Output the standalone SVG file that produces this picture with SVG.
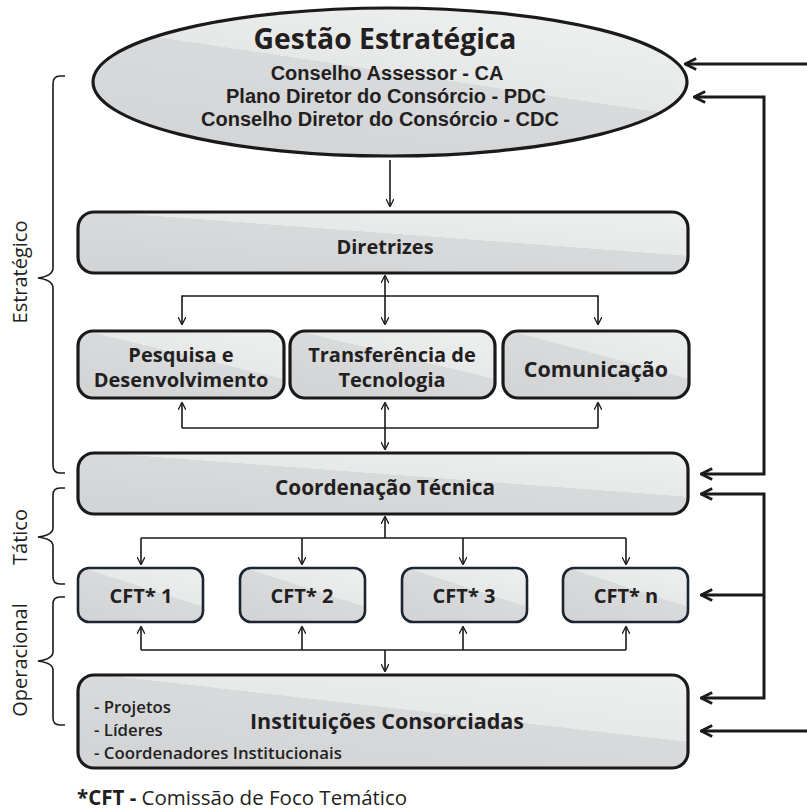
<svg xmlns="http://www.w3.org/2000/svg" width="807" height="811" viewBox="0 0 807 811">
<defs>
<linearGradient id="gl" x1="0.125" y1="0.875" x2="0.875" y2="-0.125">
<stop offset="0" stop-color="#d3d4d6"/>
<stop offset="0.52" stop-color="#d9dadc"/>
<stop offset="0.52" stop-color="#e7e8e8"/>
<stop offset="1" stop-color="#eeefef"/>
</linearGradient>
<linearGradient id="gle" x1="0.2" y1="1" x2="0.8" y2="0">
<stop offset="0" stop-color="#d3d4d6"/>
<stop offset="0.55" stop-color="#d9dadc"/>
<stop offset="0.55" stop-color="#e6e7e7"/>
<stop offset="1" stop-color="#eeefef"/>
</linearGradient>
<marker id="ah" viewBox="0 0 10 10" refX="9" refY="5" markerWidth="8" markerHeight="8" markerUnits="userSpaceOnUse" orient="auto-start-reverse">
<path d="M0,0 L10,5 L0,10" fill="none" stroke="#1a1a1a" stroke-width="1.6"/>
</marker>
<marker id="ahb" viewBox="0 0 10 10" refX="9" refY="5" markerWidth="14" markerHeight="14" markerUnits="userSpaceOnUse" orient="auto-start-reverse">
<path d="M1,1 L9,5 L1,9" fill="none" stroke="#1a1a1a" stroke-width="2"/>
</marker>
</defs>
<style>
.box{fill:url(#gl);stroke:#1a1a1a;stroke-width:3.2}
.cft{fill:url(#gl);stroke:#1c2630;stroke-width:2.6}
.t{font-family:"Open Sans","Liberation Sans",sans-serif;font-weight:bold;fill:#231f20;text-anchor:middle}
.s{font-family:"Liberation Sans",Arial,sans-serif;font-weight:bold;fill:#231f20;text-anchor:middle;font-size:20px}
.r{font-family:"Open Sans","Liberation Sans",sans-serif;fill:#231f20}
.c{fill:none;stroke:#1a1a1a;stroke-width:1.6}
.cb{fill:none;stroke:#1a1a1a;stroke-width:3}
.br{fill:none;stroke:#1a1a1a;stroke-width:1.6}
</style>

<g id="gestao">
<ellipse cx="390" cy="82" rx="297" ry="74" fill="url(#gle)" stroke="#1a1a1a" stroke-width="3.2"/>
<text class="t" x="385" y="49" font-size="28.3">Gestão Estratégica</text>
<text class="s" x="387" y="80">Conselho Assessor - CA</text>
<text class="s" x="386" y="103">Plano Diretor do Consórcio - PDC</text>
<text class="s" x="380" y="126">Conselho Diretor do Consórcio - CDC</text>
</g>

<g id="diretrizes">
<rect class="box" x="78" y="212" width="610" height="61" rx="16"/>
<text class="t" x="385" y="254" font-size="20">Diretrizes</text>
</g>

<g id="pesquisa">
<rect class="box" x="78" y="331" width="206" height="67" rx="15"/>
<text class="t" x="181" y="362" font-size="20">Pesquisa e</text>
<text class="t" x="181" y="387" font-size="20">Desenvolvimento</text>
</g>
<g id="transferencia">
<rect class="box" x="290" y="331" width="205" height="67" rx="15"/>
<text class="t" x="392" y="362" font-size="20">Transferência de</text>
<text class="t" x="392" y="387" font-size="20">Tecnologia</text>
</g>
<g id="comunicacao">
<rect class="box" x="503" y="331" width="186" height="67" rx="15"/>
<text class="t" x="596" y="377" font-size="21.5">Comunicação</text>
</g>

<g id="coordenacao">
<rect class="box" x="78" y="453" width="610" height="61" rx="16"/>
<text class="t" x="385" y="495" font-size="20.8">Coordenação Técnica</text>
</g>

<g id="cft1"><rect class="cft" x="78" y="568" width="125" height="54" rx="11"/><text class="t" x="141" y="603" font-size="20">CFT* 1</text></g>
<g id="cft2"><rect class="cft" x="240" y="568" width="125" height="54" rx="11"/><text class="t" x="302" y="603" font-size="20">CFT* 2</text></g>
<g id="cft3"><rect class="cft" x="402" y="568" width="125" height="54" rx="11"/><text class="t" x="464" y="603" font-size="20">CFT* 3</text></g>
<g id="cftn"><rect class="cft" x="563" y="568" width="125" height="54" rx="11"/><text class="t" x="626" y="603" font-size="20">CFT* n</text></g>

<g id="instituicoes">
<rect class="box" x="78" y="675" width="610" height="93" rx="16"/>
<text class="t" x="387" y="729" font-size="21.5">Instituições Consorciadas</text>
<text class="r" x="94" y="713" font-size="16.8" font-weight="600">- Projetos</text>
<text class="r" x="94" y="736" font-size="16.8" font-weight="600">- Líderes</text>
<text class="r" x="94" y="759" font-size="16.8" font-weight="600">- Coordenadores Institucionais</text>
</g>

<g id="connectors">
<line class="c" x1="390" y1="160" x2="390" y2="206" marker-end="url(#ah)" stroke-width="2.2"/>
<line class="c" x1="385" y1="296" x2="385" y2="276" marker-end="url(#ah)"/>
<line class="c" x1="385" y1="296" x2="385" y2="324" marker-end="url(#ah)"/>
<polyline class="c" points="182,324 182,296 598,296 598,324" marker-start="url(#ah)" marker-end="url(#ah)"/>
<line class="c" x1="182" y1="428" x2="182" y2="403" marker-end="url(#ah)"/>
<line class="c" x1="598" y1="428" x2="598" y2="403" marker-end="url(#ah)"/>
<line class="c" x1="182" y1="428" x2="598" y2="428"/>
<line class="c" x1="385" y1="428" x2="385" y2="403" marker-end="url(#ah)"/>
<line class="c" x1="385" y1="428" x2="385" y2="449" marker-end="url(#ah)"/>
<line class="c" x1="385" y1="538" x2="385" y2="517" marker-end="url(#ah)"/>
<line class="c" x1="141" y1="538" x2="626" y2="538"/>
<line class="c" x1="141" y1="538" x2="141" y2="564" marker-end="url(#ah)"/>
<line class="c" x1="302" y1="538" x2="302" y2="564" marker-end="url(#ah)"/>
<line class="c" x1="463" y1="538" x2="463" y2="564" marker-end="url(#ah)"/>
<line class="c" x1="626" y1="538" x2="626" y2="564" marker-end="url(#ah)"/>
<line class="c" x1="141" y1="650" x2="626" y2="650"/>
<line class="c" x1="141" y1="650" x2="141" y2="627" marker-end="url(#ah)"/>
<line class="c" x1="302" y1="650" x2="302" y2="627" marker-end="url(#ah)"/>
<line class="c" x1="463" y1="650" x2="463" y2="627" marker-end="url(#ah)"/>
<line class="c" x1="626" y1="650" x2="626" y2="627" marker-end="url(#ah)"/>
<line class="c" x1="385" y1="650" x2="385" y2="671" marker-end="url(#ah)"/>
<line class="cb" x1="807" y1="64" x2="685" y2="64" marker-end="url(#ahb)"/>
<polyline class="cb" points="694,97 764,97 764,474 701,474" marker-start="url(#ahb)" marker-end="url(#ahb)"/>
<polyline class="cb" points="701,494 764,494 764,698 701,698" marker-start="url(#ahb)" marker-end="url(#ahb)"/>
<line class="cb" x1="764" y1="595" x2="701" y2="595" marker-end="url(#ahb)"/>
<line class="cb" x1="807" y1="731" x2="701" y2="731" marker-end="url(#ahb)"/>
</g>

<g id="braces">
<path class="br" d="M65,76 L60,76 Q53,76 53,84 L53,268 Q53,276 38,278 Q53,280 53,288 L53,465 Q53,473 60,473 L65,473"/>
<path class="br" d="M65,488 L60,488 Q53,488 53,495 L53,528 Q53,535 38,537 Q53,539 53,546 L53,577 Q53,584 60,584 L65,584"/>
<path class="br" d="M65,597 L60,597 Q53,597 53,604 L53,652 Q53,659 38,661 Q53,663 53,670 L53,718 Q53,725 60,725 L65,725"/>
</g>

<g id="labels">
<text class="r" font-size="20" text-anchor="middle" transform="translate(27,272) rotate(-90)">Estratégico</text>
<text class="r" font-size="20" text-anchor="middle" transform="translate(27,537) rotate(-90)">Tático</text>
<text class="r" font-size="20" text-anchor="middle" transform="translate(27,660) rotate(-90)">Operacional</text>
<text class="r" x="77" y="805" font-size="20.5"><tspan font-weight="bold">*CFT -</tspan> Comissão de Foco Temático</text>
</g>
</svg>
